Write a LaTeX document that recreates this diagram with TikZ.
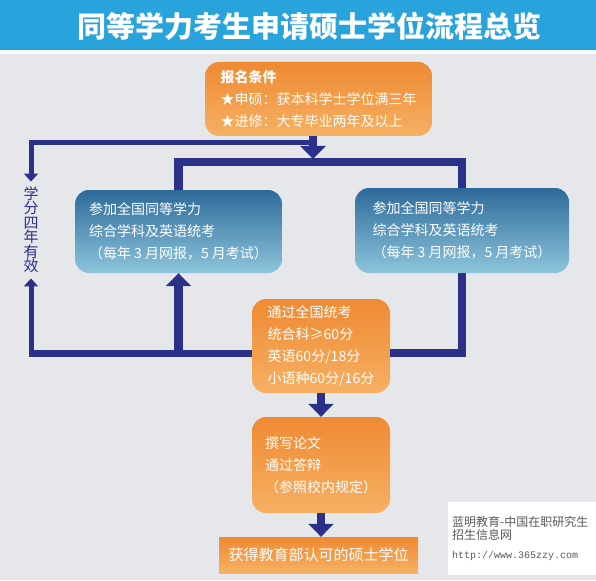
\documentclass[tikz,border=0pt]{standalone}
\usepackage{fontspec}
\setmainfont{Noto Sans CJK SC}
\setmonofont{Liberation Mono}
\usepackage{xcolor}
\usetikzlibrary{arrows.meta}
\definecolor{bggrey}{HTML}{E6E7EB}
\definecolor{titleblue}{HTML}{29A3DC}
\definecolor{navy}{HTML}{2B3088}
\definecolor{orangetop}{HTML}{EF8A33}
\definecolor{orangebot}{HTML}{F6B063}
\definecolor{bluetop}{HTML}{2D6A9A}
\definecolor{bluebot}{HTML}{8EC5DC}

\begin{document}
\begin{tikzpicture}[x=1pt, y=-1pt, font=\fontsize{14}{22}\selectfont,
        obox/.style={rounded corners=14pt, top color=orangetop, bottom color=orangebot, text=white, align=left, inner sep=0pt},
        bbox/.style={rounded corners=14pt, top color=bluetop, bottom color=bluebot, text=white, align=left, inner sep=0pt},
        flow/.style={draw=navy, line width=8.5pt},
        flowarrow/.style={flow, -{Triangle[width=25pt,length=13pt]}},
        backflow/.style={draw=navy, line width=5pt, -{Triangle[width=14pt,length=8pt]}}]
        \useasboundingbox (0,0) rectangle (596,580);
        \fill[bggrey] (0,0) rectangle (596,580);
        \fill[titleblue] (0,0) rectangle (596,50);
        \fill[white!85!bggrey] (0,50) rectangle (596,54);
        \node[font=\fontsize{29}{29}\selectfont\bfseries, text=white] (title) at (309,26) {同等学力考生申请硕士学位流程总览};
        \node[obox, minimum width=227pt, minimum height=74pt] (apply) at (318.5,99) {\textbf{报名条件}\\★申硕：获本科学士学位满三年\\★进修：大专毕业两年及以上};
        \node[bbox, minimum width=207pt, minimum height=83pt] (exam1) at (178.5,231.5) {参加全国同等学力\\综合学科及英语统考\\（每年 3 月网报，5 月考试）};
        \node[bbox, minimum width=214pt, minimum height=85pt] (exam2) at (462,230.5) {参加全国同等学力\\综合学科及英语统考\\（每年 3 月网报，5 月考试）};
        \node[obox, minimum width=138pt, minimum height=94pt] (pass) at (321,346) {通过全国统考\\统合科≥60分\\英语60分/18分\\小语种60分/16分};
        \node[obox, minimum width=138pt, minimum height=96pt] (thesis) at (321,465) {撰写论文\\通过答辩\\（参照校内规定）};
        \node[obox, rounded corners=0pt, align=center, minimum width=199pt, minimum height=36pt, font=\fontsize{15}{18}\selectfont] (degree) at (318.5,555) {获得教育部认可的硕士学位};
        \node[font=\fontsize{15}{14.5}\selectfont, text=navy, align=center, inner xsep=1pt, inner ysep=5pt] (credit) at (31,230) {学\\分\\四\\年\\有\\效};
        % watermark
        \node[fill=white, anchor=north west, align=left, text=black!65, inner sep=4pt, minimum width=148pt, minimum height=73pt, text width=140pt,
              font=\fontsize{12}{13}\selectfont] (mark) at (448,502) {蓝明教育-中国在职研究生\\招生信息网\\[6pt]{\ttfamily\fontsize{10}{12}\selectfont http://www.365zzy.com}};
        % connectors
        \coordinate (bar) at (313,162);
        \coordinate (loop) at (313,143);
        \coordinate (base) at (0,353);
        \draw[flow] (exam1.north) |- (bar) -| (exam2.north);
        \draw[backflow] (loop) -| (credit.north);
        \draw[flowarrow, shorten >=3pt] (bar |- apply.south) -- (bar);
        \draw[flow] (exam2.south) |- (pass.east |- base);
        \draw[flow, line width=7pt] (pass.west |- base) -- ([xshift=-2.5pt]credit.south |- base);
        \draw[backflow] ([yshift=3.5pt]credit.south |- base) -- (credit.south);
        \draw[flowarrow] (exam1.south |- base) -- (exam1.south);
        \draw[flowarrow] (pass.south) -- (thesis.north);
        \draw[flowarrow] (thesis.south) -- (thesis.south |- degree.north);
      \end{tikzpicture}
\end{document}
